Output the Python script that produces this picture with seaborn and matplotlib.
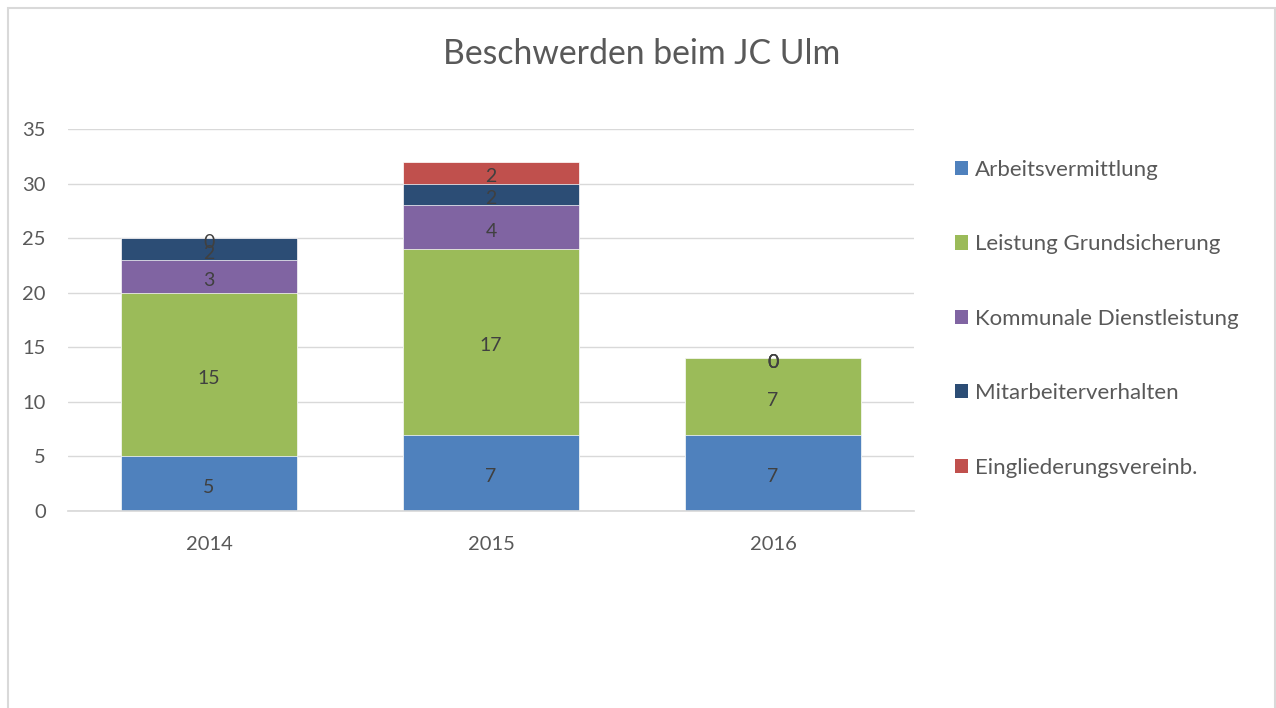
import matplotlib
matplotlib.use("Agg")
import matplotlib.pyplot as plt
import seaborn as sns
import pandas as pd
import numpy as np
from matplotlib.patches import Rectangle, Patch

jahre = ["2014", "2015", "2016"]
kategorien = ["Arbeitsvermittlung", "Leistung Grundsicherung", "Kommunale Dienstleistung",
              "Mitarbeiterverhalten", "Eingliederungsvereinb."]
arbeitsvermittlung = [5, 7, 7]
grundsicherung = [15, 17, 7]
kommunal = [3, 4, 0]
mitarbeiter = [2, 2, 0]
eingliederung = [0, 2, 0]
farben = ["#4F81BD", "#9BBB59", "#8064A2", "#2C4D75", "#C0504D"]

werte = [arbeitsvermittlung, grundsicherung, kommunal, mitarbeiter, eingliederung]
df = pd.DataFrame({k: v for k, v in zip(kategorien, werte)}, index=jahre)
kum = df.cumsum(axis=1)

sns.set_theme(style="white")
plt.rcParams['font.family'] = ['Lato', 'DejaVu Sans']

fig = plt.figure(figsize=(12.76, 7.08), dpi=100)
ax = fig.add_axes([68 / 1276, 1 - 511 / 708, (914 - 68) / 1276, (511 - 129) / 708])

# gestapelt: kumulierte Summen von oben nach unten zeichnen
for kat, farbe in reversed(list(zip(kategorien, farben))):
    plot_df = pd.DataFrame({"Jahr": jahre, "Wert": kum[kat].values})
    sns.barplot(data=plot_df, x="Jahr", y="Wert", color=farbe, width=0.624,
                saturation=1, ax=ax, zorder=2, linewidth=0.5, edgecolor="white")

# Datenbeschriftungen in der Mitte jedes Segments
for i, jahr in enumerate(jahre):
    unten = 0
    for kat in kategorien:
        v = df.loc[jahr, kat]
        ax.annotate(str(v), (i, unten + v / 2), xytext=(0, -3), textcoords="offset points",
                    ha="center", va="center", fontsize=14, color="#404040", zorder=3)
        unten += v

ax.set_ylim(0, 35)
ax.set_xlim(-0.5, 2.5)
ax.set_yticks(range(0, 36, 5))
ax.yaxis.grid(True, color="#D9D9D9", linewidth=1)
ax.set_axisbelow(True)
for s in ["top", "right", "left"]:
    ax.spines[s].set_visible(False)
ax.spines["bottom"].set_color("#D9D9D9")
ax.set_xlabel("")
ax.set_ylabel("")
ax.tick_params(axis="both", length=0, labelsize=14.5, labelcolor="#595959")
ax.tick_params(axis="y", pad=16)
ax.tick_params(axis="x", pad=18)

fig.text(0.503, 1 - 54 / 708, "Beschwerden beim JC Ulm", ha="center", va="center",
         fontsize=24.3, color="#595959")

handles = [Patch(facecolor=f, edgecolor="none", label=k) for k, f in zip(kategorien, farben)]
fig.legend(handles=handles, loc="upper left", bbox_to_anchor=(946 / 1276, 1 - 151 / 708),
           frameon=False, fontsize=16, labelcolor="#595959", handlelength=0.6,
           handleheight=0.6, handletextpad=0.3, labelspacing=2.45, borderaxespad=0)

fig.add_artist(Rectangle((8 / 1276, -0.05), 0.9929, 1.0387, transform=fig.transFigure,
                         fill=False, edgecolor="#D9D9D9", linewidth=1.5))

fig.savefig("out.png", dpi=100)
